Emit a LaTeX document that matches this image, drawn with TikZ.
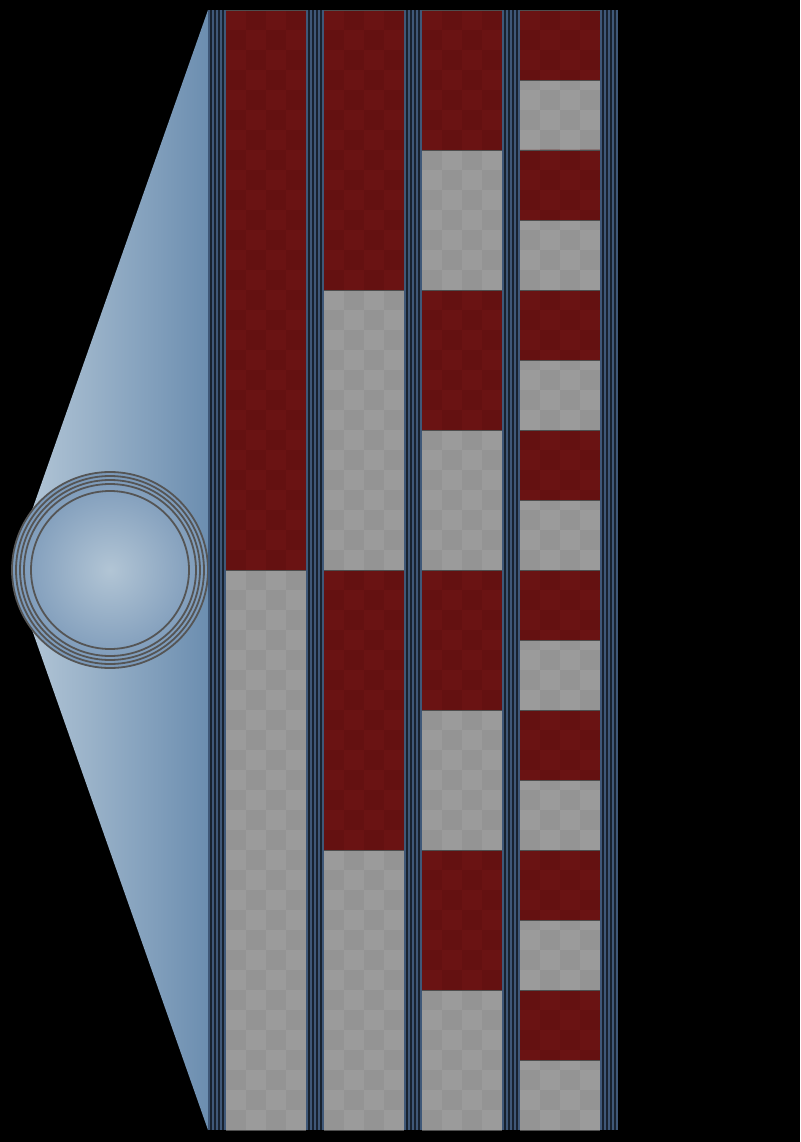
\documentclass[tikz,border=0pt]{standalone}
\definecolor{triL}{HTML}{B8CAD9}
\definecolor{triR}{HTML}{6C8EB0}
\definecolor{circIn}{HTML}{B2C5D5}
\definecolor{circOut}{HTML}{7A98B8}
\definecolor{ringc}{HTML}{555555}
\definecolor{grayA}{HTML}{9B9B9B}
\definecolor{grayB}{HTML}{949494}
\definecolor{redA}{HTML}{6A1313}
\definecolor{redB}{HTML}{641111}
\definecolor{stripeL}{HTML}{3F5878}
\definecolor{stripeD}{HTML}{18222F}
\definecolor{edgec}{HTML}{4E4E4E}
\tikzset{
  ring/.style={draw=ringc, line width=1.8pt},
  blockedge/.style={draw=edgec, line width=0.9pt},
}
\begin{document}
\begin{tikzpicture}[x=1pt,y=-1pt]
\fill[black] (0,0) rectangle (800,1142);
\useasboundingbox (0,0) rectangle (800,1142);
% fan triangle
\shade[left color=triL, right color=triR] (208,10) -- (11,570) -- (208,1130) -- cycle;
% circle with rings
\shade[inner color=circIn, outer color=circOut] (110,570) circle (98pt);
\foreach \rr in {79,86,90,94,98} {
  \draw[ring] (110,570) circle (\rr pt);
}
% columns
\foreach \i in {0,1,2,3} {
  \pgfmathsetmacro{\cx}{226+98*\i}
  \pgfmathsetmacro{\h}{560/(2^\i)}
  \pgfmathtruncatemacro{\nm}{2^\i-1}
  \fill[grayA] (\cx,10) rectangle ++(80,1120);
  \foreach \r in {0,...,55} {
    \foreach \c in {0,...,3} {
      \pgfmathtruncatemacro{\p}{mod(\r+\c,2)}
      \ifnum\p=1
        \fill[grayB] ({\cx+20*\c},{10+20*\r}) rectangle ++(20,20);
      \fi
    }
  }
  \begin{scope}
    \clip \foreach \k in {0,...,\nm} { (\cx,{10+2*\k*\h}) rectangle ++(80,\h) };
    \fill[redA] (\cx,10) rectangle ++(80,1120);
    \foreach \r in {0,...,55} {
      \foreach \c in {0,...,3} {
        \pgfmathtruncatemacro{\p}{mod(\r+\c,2)}
        \ifnum\p=1
          \fill[redB] ({\cx+20*\c},{10+20*\r}) rectangle ++(20,20);
        \fi
      }
    }
  \end{scope}
  \foreach \k in {0,...,\nm} {
    \draw[blockedge] (\cx,{10+(2*\k+1)*\h}) -- ++(80,0);
    \draw[blockedge] (\cx,{10+(2*\k)*\h}) -- ++(80,0);
  }
  \draw[blockedge] (\cx,1130) -- ++(80,0);
}
% dividers
\foreach \d in {0,1,2,3,4} {
  \pgfmathsetmacro{\dx}{208+98*\d}
  \fill[stripeL] (\dx,10) rectangle ++(18,1120);
  \foreach \s in {2,6,10,14} {
    \fill[stripeD] ({\dx+\s},10) rectangle ++(2,1120);
  }
}
\end{tikzpicture}
\end{document}
